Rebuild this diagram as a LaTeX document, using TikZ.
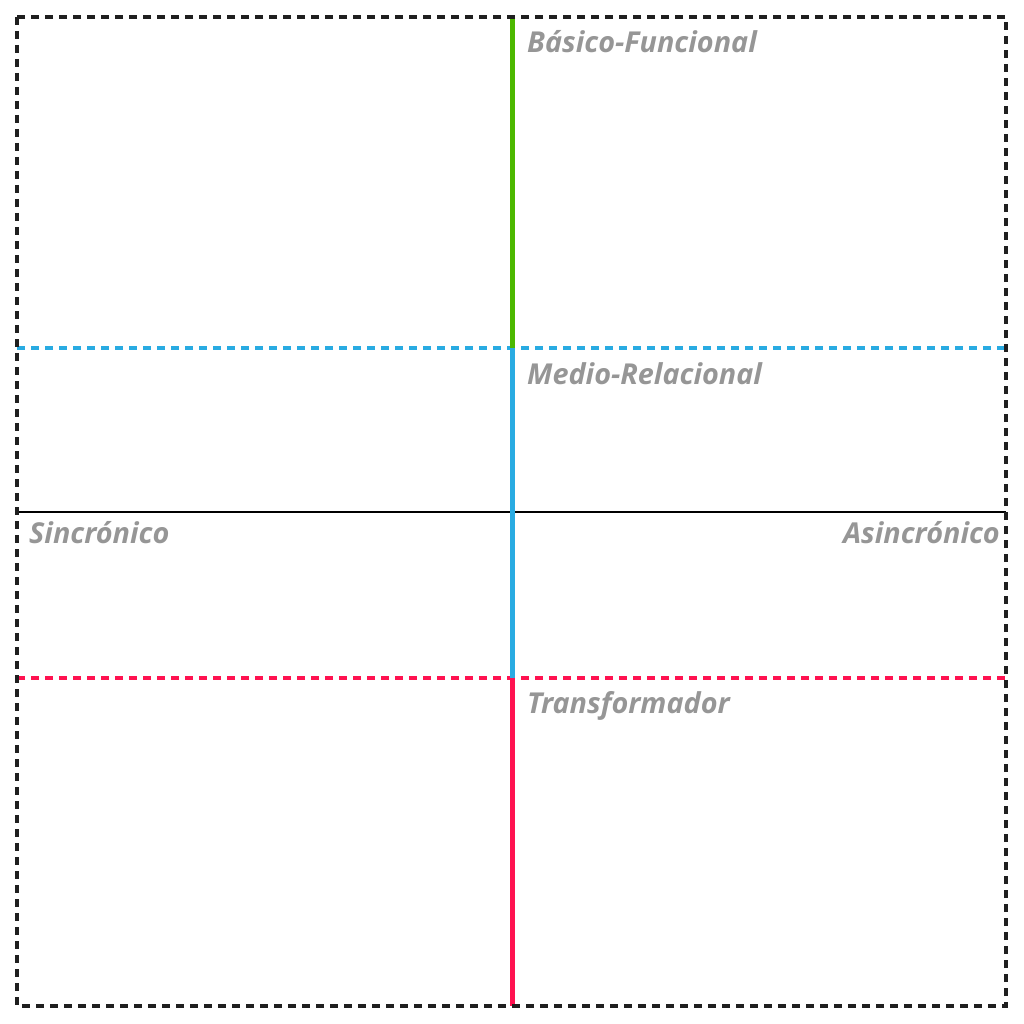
\documentclass[tikz,border=0pt]{standalone}
\usepackage{fontspec}
\setmainfont{Open Sans}
\definecolor{gGreen}{RGB}{76,184,0}
\definecolor{gBlue}{RGB}{41,171,226}
\definecolor{gRed}{RGB}{255,18,80}
\definecolor{gText}{RGB}{150,150,150}
\begin{document}
\begin{tikzpicture}[x=1pt,y=-1pt,
  lbl/.style={font=\fontsize{28.8}{32}\selectfont\bfseries\itshape, text=gText, inner sep=0pt},
  framedash/.style={draw=black!88, line width=3.5pt, dash pattern=on 8pt off 6pt},
  vline/.style={line width=5pt},
  hdash/.style={line width=3.5pt, dash pattern=on 8pt off 6pt}]
\useasboundingbox (0,0) rectangle (1024,1024);
\coordinate (tl) at (17,17);
\coordinate (br) at (1006,1006);
\coordinate (top) at (512,17);
\coordinate (mb) at (512,348);
\coordinate (mr) at (512,678);
\coordinate (bot) at (512,1006);
\coordinate (lb) at (17,348);
\coordinate (rb) at (1006,348);
\coordinate (lr) at (17,678);
\coordinate (rr) at (1006,678);
\coordinate (lm) at (17,512);
\coordinate (rm) at (1006,512);
\draw[hdash, gBlue] (lb) -- (rb);
\draw[hdash, gRed] (lr) -- (rr);
\draw[line width=2.5pt, black] (lm) -- (rm);
\draw[vline, gGreen] (top) -- (mb);
\draw[vline, gBlue] (mb) -- (mr);
\draw[vline, gRed] (mr) -- (bot);
\draw[framedash] (tl) rectangle (br);
\node[lbl, anchor=base west] (bf) at (527,53) {Básico-Funcional};
\node[lbl, anchor=base west] (mrl) at (527,384) {Medio-Relacional};
\node[lbl, anchor=base west] (sin) at (29,543) {Sincrónico};
\node[lbl, anchor=base east] (asin) at (1000,543) {Asincrónico};
\node[lbl, anchor=base west] (tr) at (527,713) {Transformador};
\end{tikzpicture}
\end{document}
